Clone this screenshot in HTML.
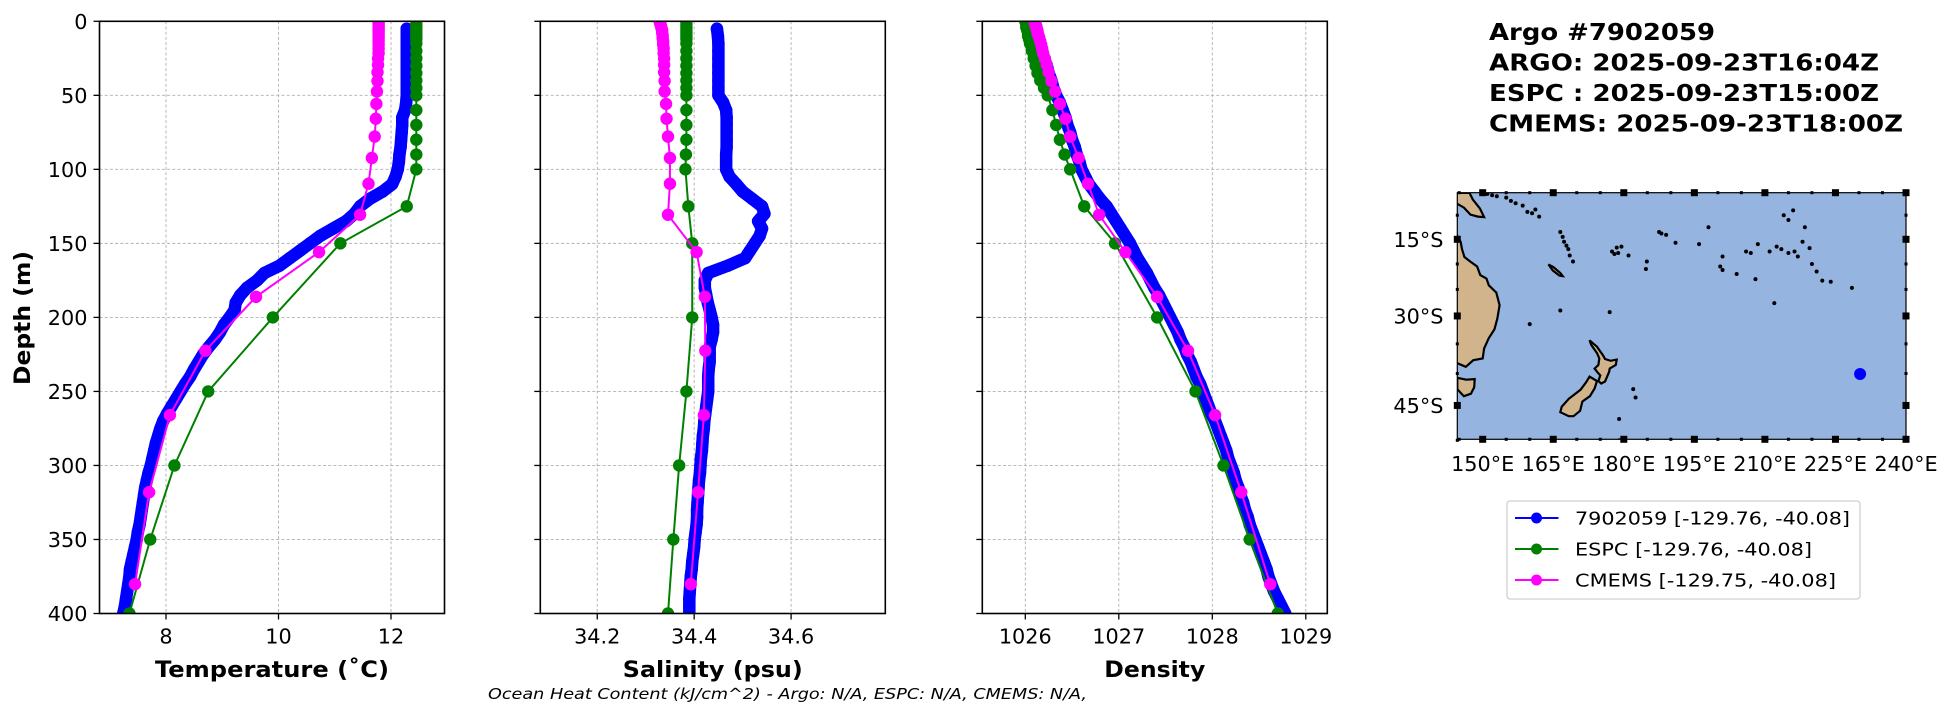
<!DOCTYPE html>
<html><head><meta charset="utf-8"><style>
html,body{margin:0;padding:0;background:#fff;}
svg{display:block;font-family:"DejaVu Sans","Liberation Sans",sans-serif;}
</style></head><body>
<svg id="fig" xmlns="http://www.w3.org/2000/svg" width="1953" height="712" viewBox="0 0 1953 712">
<rect width="1953" height="712" fill="#fff"/>
<g id="root"></g>
</svg>
<script>
// ---------- DATA ----------
const depthTicks = [0,50,100,150,200,250,300,350,400];
const argoDepth = [5,10,15,20,25,30,35,40,45,50,55,60,65,70,75,80,85,90,95,100,105,110,115,120,125,130,135,140,145,150,155,160,165,170,175,180,185,190,195,200,205,210,215,220,225,230,235,240,245,250,255,260,265,270,275,280,285,290,295,300,305,310,315,320,325,330,335,340,345,350,355,360,365,370,375,380,385,390,395,400];
const argoTemp = [12.28,12.28,12.28,12.28,12.28,12.28,12.28,12.28,12.28,12.28,12.27,12.25,12.2,12.2,12.19,12.18,12.17,12.15,12.14,12.12,12.08,12.02,11.85,11.62,11.45,11.35,11.2,10.97,10.74,10.56,10.38,10.2,10.02,9.75,9.62,9.44,9.32,9.24,9.22,9.13,9.03,8.96,8.87,8.76,8.66,8.58,8.5,8.43,8.34,8.26,8.18,8.1,8.02,7.95,7.9,7.86,7.82,7.79,7.76,7.73,7.69,7.66,7.63,7.61,7.59,7.57,7.55,7.53,7.5,7.48,7.45,7.42,7.39,7.36,7.35,7.33,7.31,7.29,7.27,7.24];
const argoSal = [34.447,34.449,34.45,34.45,34.45,34.45,34.45,34.45,34.45,34.45,34.46,34.466,34.467,34.467,34.467,34.467,34.467,34.466,34.466,34.466,34.473,34.487,34.5,34.52,34.54,34.545,34.532,34.54,34.535,34.525,34.515,34.505,34.47,34.429,34.422,34.422,34.425,34.428,34.432,34.436,34.439,34.439,34.436,34.432,34.432,34.432,34.43,34.429,34.429,34.429,34.427,34.425,34.423,34.421,34.42,34.418,34.417,34.416,34.414,34.413,34.412,34.41,34.409,34.408,34.407,34.406,34.406,34.405,34.403,34.401,34.4,34.398,34.396,34.395,34.393,34.392,34.391,34.39,34.39,34.39];
const argoDens = [1026.12,1026.14,1026.16,1026.18,1026.2,1026.23,1026.25,1026.28,1026.3,1026.33,1026.37,1026.4,1026.43,1026.45,1026.48,1026.5,1026.53,1026.55,1026.58,1026.6,1026.64,1026.68,1026.74,1026.8,1026.87,1026.92,1026.97,1027.02,1027.07,1027.12,1027.16,1027.2,1027.25,1027.3,1027.34,1027.38,1027.43,1027.47,1027.51,1027.55,1027.59,1027.63,1027.66,1027.7,1027.73,1027.77,1027.8,1027.83,1027.87,1027.9,1027.93,1027.96,1027.99,1028.03,1028.06,1028.09,1028.12,1028.15,1028.17,1028.2,1028.23,1028.25,1028.28,1028.3,1028.33,1028.35,1028.38,1028.4,1028.43,1028.46,1028.49,1028.52,1028.55,1028.58,1028.6,1028.63,1028.66,1028.7,1028.74,1028.78];

const espcDepth = [0,2,4,6,8,10,12,15,20,25,30,35,40,45,50,60,70,80,90,100,125,150,200,250,300,350,400];
const espcTemp = [12.45,12.45,12.45,12.45,12.45,12.45,12.45,12.45,12.45,12.45,12.45,12.45,12.45,12.45,12.45,12.45,12.45,12.45,12.45,12.45,12.28,11.1,9.9,8.75,8.15,7.72,7.35];
const espcSal = [34.384,34.384,34.384,34.384,34.384,34.384,34.384,34.384,34.384,34.384,34.384,34.384,34.384,34.384,34.384,34.384,34.384,34.384,34.383,34.382,34.388,34.396,34.396,34.384,34.369,34.357,34.346];
const espcDens = [1026.0,1026.01,1026.01,1026.02,1026.03,1026.03,1026.04,1026.05,1026.07,1026.09,1026.11,1026.13,1026.16,1026.2,1026.24,1026.29,1026.33,1026.37,1026.42,1026.48,1026.63,1026.96,1027.41,1027.82,1028.12,1028.4,1028.7];

const cmemsDepth = [0.5,1.5,2.6,3.8,5,6.4,7.9,9.6,11.4,13.5,15.8,18.5,21.6,25.2,29.4,34.4,40.3,47.4,55.8,65.8,77.9,92.3,109.7,130.7,155.9,186.1,222.5,266,318.1,380.2];
const cmemsTemp = [11.78,11.78,11.78,11.78,11.78,11.78,11.78,11.78,11.78,11.78,11.78,11.78,11.78,11.77,11.77,11.76,11.76,11.75,11.74,11.73,11.71,11.66,11.6,11.45,10.72,9.6,8.7,8.07,7.7,7.45];
const cmemsSal = [34.329,34.33,34.331,34.332,34.333,34.334,34.334,34.335,34.335,34.336,34.336,34.337,34.337,34.338,34.338,34.338,34.339,34.339,34.342,34.343,34.346,34.35,34.35,34.346,34.405,34.422,34.423,34.42,34.408,34.393];
const cmemsDens = [1026.1,1026.11,1026.11,1026.12,1026.12,1026.13,1026.13,1026.14,1026.15,1026.16,1026.17,1026.18,1026.19,1026.21,1026.23,1026.25,1026.28,1026.32,1026.37,1026.43,1026.48,1026.57,1026.67,1026.79,1027.07,1027.41,1027.74,1028.03,1028.31,1028.62];

const tempTicks = [8,10,12];
const salTicks = [34.2,34.4,34.6];
const salTickLabels = ["34.2","34.4","34.6"];
const densTicks = [1026,1027,1028,1029];

const lonTicks = [150,165,180,195,210,225,240];
const latTicks = [-15,-30,-45];
const floatLon = [230.24];
const floatLat = [-40.08];

// ---------- HELPERS ----------
const NS = "http://www.w3.org/2000/svg";
const root = document.getElementById("root");
function mk(tag, attrs, parent){
  const e = document.createElementNS(NS, tag);
  for (const k in attrs) e.setAttribute(k, attrs[k]);
  (parent||root).appendChild(e);
  return e;
}
const Y0 = 21.3, Y1 = 613.5;
function yScale(d){ return Y0 + d/400*(Y1-Y0); }

const panels = [
  {key:"temperature", x0:99.5, x1:444.5, vmin:6.818, vmax:12.951, ticks:tempTicks, labels:tempTicks.map(String), label:"Temperature (˚C)", labelW:234, series:[argoTemp, espcTemp, cmemsTemp], showY:true},
  {key:"salinity", x0:540.3, x1:885.3, vmin:34.0825, vmax:34.7944, ticks:salTicks, labels:salTickLabels, label:"Salinity (psu)", labelW:180, series:[argoSal, espcSal, cmemsSal], showY:false},
  {key:"density", x0:982.3, x1:1327.3, vmin:1025.54, vmax:1029.23, ticks:densTicks, labels:densTicks.map(String), label:"Density", labelW:101, series:[argoDens, espcDens, cmemsDens], showY:false}
];
const depths = [argoDepth, espcDepth, cmemsDepth];
const colors = ["#0000ff","#008000","#ff00ff"];
const names = ["argo","espc","cmems"];

const defs = mk("defs", {});
panels.forEach((p, pi) => {
  const xs = v => p.x0 + (v - p.vmin)/(p.vmax - p.vmin)*(p.x1 - p.x0);
  const g = mk("g", {});
  
  
  const cp = mk("clipPath", {id:"clip"+pi}, defs);
  mk("rect", {x:p.x0, y:Y0, width:p.x1-p.x0, height:Y1-Y0}, cp);
  const grid = mk("g", {stroke:"#b0b0b0", "stroke-width":"0.9", "stroke-dasharray":"3,2.2"}, g);
  
  
  p.ticks.forEach(t => mk("line", {x1:xs(t), x2:xs(t), y1:Y0, y2:Y1}, grid));
  depthTicks.forEach(d => { if (d>0 && d<400) mk("line", {x1:p.x0, x2:p.x1, y1:yScale(d), y2:yScale(d)}, grid); });
  p.series.forEach((vals, si) => {
    const sg = mk("g", {"clip-path":"url(#clip"+pi+")"}, g);
    
    
    const dd = depths[si];
    const pts = vals.map((v,i)=> xs(v).toFixed(2)+","+yScale(dd[i]).toFixed(2)).join(" ");
    if (si === 0) {
      // dense Argo sampling renders as a continuous band of markers
      mk("polyline", {points:pts, fill:"none", stroke:colors[si], "stroke-width":"12.5", "stroke-linecap":"round", "stroke-linejoin":"round"}, sg);
    }
    mk("polyline", {points:pts, fill:"none", stroke:colors[si], "stroke-width":"2"}, sg);
    vals.forEach((v,i)=>{
      const c = mk("circle", {cx:xs(v), cy:yScale(dd[i]), r:6.2, fill:colors[si]}, sg);
      
      
    });
  });
  const fr = mk("rect", {x:p.x0, y:Y0, width:p.x1-p.x0, height:Y1-Y0, fill:"none", stroke:"#000", "stroke-width":"1.6"}, g);
  
  
  p.ticks.forEach((t,i) => {
    mk("line", {x1:xs(t), x2:xs(t), y1:Y1, y2:Y1+6, stroke:"#000", "stroke-width":"1.3"}, g);
    const tx = mk("text", {x:xs(t), y:Y1+30, "font-size":"20.8", "text-anchor":"middle", fill:"#000"}, g);
    tx.textContent = p.labels[i];
    
    
  });
  depthTicks.forEach(d => {
    mk("line", {x1:p.x0-6, x2:p.x0, y1:yScale(d), y2:yScale(d), stroke:"#000", "stroke-width":"1.3"}, g);
    if (p.showY){
      const ty = mk("text", {x:p.x0-12, y:yScale(d)+7.5, "font-size":"20.8", "text-anchor":"end", fill:"#000"}, g);
      ty.textContent = String(d);
      
      
    }
  });
  const xl = mk("text", {x:(p.x0+p.x1)/2, y:677, "font-size":"22", "font-weight":"bold", "text-anchor":"middle", textLength:p.labelW, lengthAdjust:"spacingAndGlyphs", fill:"#000"}, g);
  xl.textContent = p.label;
  
  
});
const yt = mk("text", {x:0, y:0, transform:"translate(30,318) rotate(-90)", "font-size":"22", "font-weight":"bold", "text-anchor":"middle", textLength:"134", lengthAdjust:"spacingAndGlyphs", fill:"#000"});
yt.textContent = "Depth (m)";


const ft = mk("text", {x:488, y:699, "font-size":"15.5", "font-style":"italic", textLength:"599", lengthAdjust:"spacingAndGlyphs", fill:"#000"});
ft.textContent = "Ocean Heat Content (kJ/cm^2) - Argo: N/A,  ESPC: N/A,  CMEMS: N/A,";



const titleLines = ["Argo #7902059","ARGO: 2025-09-23T16:04Z","ESPC : 2025-09-23T15:00Z","CMEMS: 2025-09-23T18:00Z"];
const titleW = [226,390,390,414];
titleLines.forEach((t,i)=>{
  const e = mk("text", {x:1489, y:40+i*30.5, "font-size":"23", "font-weight":"bold", textLength:titleW[i], lengthAdjust:"spacingAndGlyphs", fill:"#000"});
  e.textContent = t;
  
  
});

// ---------- MAP ----------
const MX0 = 1457.3, MX1 = 1906, MY0 = 192.7, MY1 = 439.3;
const pxPerDeg = (1906 - 1482.7)/90;
function mlon(l){ return 1482.7 + (l-150)*pxPerDeg; }
function merc(lat){ return Math.log(Math.tan(Math.PI/4 + lat*Math.PI/360)); }
const R = pxPerDeg*180/Math.PI;
function mlat(l){ return 239.3 - (merc(l)-merc(-15))*R; }
const mg = mk("g", {});


const mcp = mk("clipPath", {id:"mapclip"}, defs);
mk("rect", {x:MX0, y:MY0, width:MX1-MX0, height:MY1-MY0}, mcp);
mk("rect", {x:MX0, y:MY0, width:MX1-MX0, height:MY1-MY0, fill:"#95b4e0"}, mg);
const land = mk("g", {"clip-path":"url(#mapclip)", fill:"#d2b48c", stroke:"#000", "stroke-width":"2.2"}, mg);
const polys = {
  "australia":[[140,-5],[144.6,-14.3],[145.3,-15.5],[145.6,-17],[146.1,-18.6],[147.2,-19.4],[148.8,-20.5],[149.5,-22.2],[150.8,-22.9],[151.3,-24.2],[152.9,-25.6],[153.6,-28],[153.1,-30.5],[152.5,-32.4],[151.3,-34],[150.3,-35.8],[150,-37.5],[148,-37.8],[146.4,-38.9],[144.6,-38.3],[140,-38]],
  "tasmania":[[144.6,-40.7],[146.5,-41],[148.3,-40.9],[148.2,-42.2],[147.5,-43.2],[146,-43.6],[144.6,-42.5]],
  "new-guinea":[[140,-5.3],[147.2,-5.3],[147.9,-6.7],[149.4,-8.6],[150.3,-10.4],[149,-10.3],[147.4,-9.9],[146,-8.4],[144.6,-7.6],[140,-7.6]],
  "nz-north":[[172.7,-34.4],[174.3,-35.5],[175.6,-37],[176,-37.6],[177.2,-37.9],[178.5,-37.7],[178.3,-38.6],[177,-39.2],[176.9,-39.7],[176,-41.3],[175.2,-41.6],[174.6,-41.2],[175,-40.3],[174.4,-39.8],[173.8,-39.2],[174.6,-38.6],[174.8,-37.5],[174.3,-36.6],[173.1,-35.2]],
  "nz-south":[[172.7,-40.5],[174.3,-41.2],[173.8,-42.4],[172.8,-43.6],[171.2,-44.4],[170.7,-45.8],[169.3,-46.6],[168.3,-46.6],[166.5,-46],[166.8,-45.2],[168.3,-44],[170.8,-42.6],[172,-41.4]],
  "new-caledonia":[[164,-20.1],[165,-20.6],[166.5,-21.8],[167,-22.4],[166.3,-22.3],[164.9,-21.3]]
};
Object.keys(polys).forEach(k=>{
  const e = mk("polygon", {points: polys[k].map(p=>mlon(p[0]).toFixed(1)+","+mlat(p[1]).toFixed(1)).join(" ")}, land);
  
  
});
const islands = [[151,-5.5],[152,-5.8],[153,-6],[155,-6.3],[156,-7],[157,-7.5],[158.5,-8],[159.5,-9.3],[160.5,-9.6],[161.2,-8.8],[162,-10.3],[166.5,-13.5],[167,-14.5],[167.3,-15.5],[167.8,-16.3],[168.2,-17],[168.5,-18.3],[169.2,-19.5],[177.5,-17.5],[178.5,-16.7],[179.5,-16.5],[178,-18],[178.8,-17.8],[181,-18.3],[184.7,-21],[184.9,-19.5],[188,-13.8],[189,-14.1],[187.5,-13.5],[191,-15.7],[196,-16],[198,-12.5],[201,-18.5],[201,-21.2],[200.5,-20.5],[206,-17.5],[207,-17.8],[208.5,-16],[211,-17.5],[212.5,-16.5],[213.5,-17],[215,-17.8],[216.3,-17.5],[217,-18.5],[218,-15.5],[219.5,-16.8],[220,-20],[221,-21.5],[222.2,-23.3],[214,-10],[215,-11],[216,-9],[218.5,-12.5],[224,-23.5],[228.5,-24.7],[208,-23],[204,-22],[212,-27.6],[182,-42.5],[182.5,-43.8],[179,-47],[179,-50],[177,-29.3],[166.5,-29],[160,-31.5],[169,-52.5]];
islands.forEach(p=>{
  const c = mk("circle", {cx:mlon(p[0]), cy:mlat(p[1]), r:2, fill:"#000", stroke:"none"}, land);
  
  
});
mk("rect", {x:MX0, y:MY0, width:MX1-MX0, height:MY1-MY0, fill:"none", stroke:"#000", "stroke-width":"1.2"}, mg);
floatLon.forEach((l,i)=>{
  const c = mk("circle", {cx:mlon(l), cy:mlat(floatLat[i]), r:6, fill:"#0000ff"}, mg);
  
  
});
lonTicks.forEach(l=>{
  const x = mlon(l);
  [MY0, MY1].forEach(y=> mk("rect", {x:x-3.5, y:y-3.5, width:7, height:7, fill:"#000"}, mg));
  const t = mk("text", {x:x, y:471, "font-size":"20.8", "text-anchor":"middle", fill:"#000"}, mg);
  t.textContent = l + "°E";
  
  
});
for (let l=145; l<=240; l+=5){ if (l%15!==0){ const x=mlon(l); [MY0,MY1].forEach(y=> mk("rect",{x:x-1.5,y:y-1.5,width:3,height:3,fill:"#000"},mg)); } }
latTicks.forEach(l=>{
  const y = mlat(l);
  [MX0, MX1].forEach(x=> mk("rect", {x:x-3.5, y:y-3.5, width:7, height:7, fill:"#000"}, mg));
  const t = mk("text", {x:1443.5, y:y+7.5, "font-size":"20.8", "text-anchor":"end", fill:"#000"}, mg);
  t.textContent = Math.abs(l) + "°S";
  
  
});
for (let l=-10; l>=-50; l-=5){ if (l%15!==0){ const y=mlat(l); [MX0,MX1].forEach(x=> mk("rect",{x:x-1.5,y:y-1.5,width:3,height:3,fill:"#000"},mg)); } }

// ---------- LEGEND ----------
const lg = mk("g", {});


mk("rect", {x:1507, y:501, width:353, height:98, rx:3, fill:"#fff", stroke:"#d0d0d0", "stroke-width":"1.3"}, lg);
const legText = ["7902059 [-129.76, -40.08]","ESPC [-129.76, -40.08]","CMEMS [-129.75, -40.08]"];
const legW = [275,237,261];
legText.forEach((t,i)=>{
  const y = 518 + i*31;
  const e = mk("g", {}, lg);
  
  
  mk("line", {x1:1515, x2:1558.5, y1:y, y2:y, stroke:colors[i], "stroke-width":"2"}, e);
  mk("circle", {cx:1536.5, cy:y, r:5.5, fill:colors[i]}, e);
  const tx = mk("text", {x:1575, y:y+6.5, "font-size":"18", textLength:legW[i], lengthAdjust:"spacingAndGlyphs", fill:"#000"}, e);
  tx.textContent = t;
});
</script>
</body></html>
